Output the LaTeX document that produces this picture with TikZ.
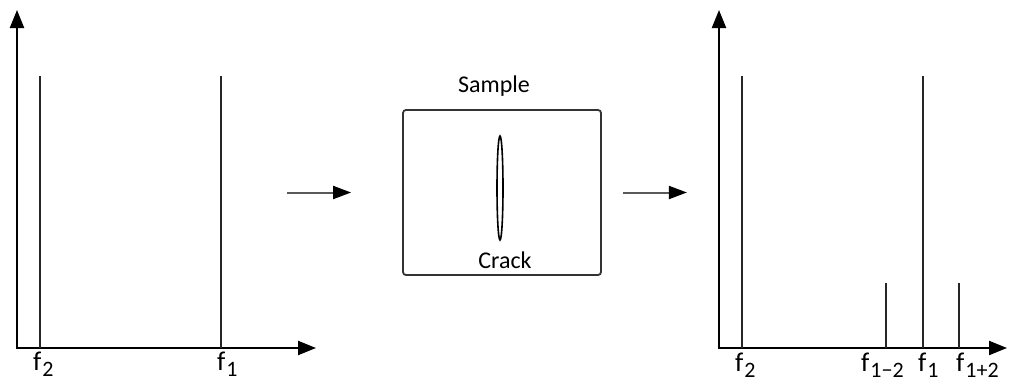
\documentclass[tikz,border=0pt]{standalone}
\usepackage{fontspec}
\setmainfont{Carlito}
\usetikzlibrary{arrows.meta,positioning}

\newcommand{\fsub}[1]{f\kern1pt\raisebox{-6pt}{\fontsize{22}{22}\selectfont #1}}

\tikzset{
  axis/.style={line width=2.2pt,{Triangle[length=18pt,width=14pt]}-{Triangle[length=18pt,width=14pt]}},
  tone/.style={line width=2pt,black!85},
  flow/.style={line width=2pt,black!65,-{Triangle[length=18pt,width=13pt,color=black]}},
  freq/.style={anchor=north west,inner sep=0pt,font=\fontsize{27}{29}\selectfont},
}

\begin{document}
\begin{tikzpicture}[x=1pt,y=-1pt]
\useasboundingbox (0,0) rectangle (1010,383);
% input spectrum: two tones
\coordinate (o1) at (17,348);
\draw[axis] (17,10) -- (o1) -- (316,348);
\foreach \x/\h/\lab/\dx in {40/76/2/7,221/76/1/4}{
  \draw[tone] (\x,348) -- (\x,\h);
  \node[freq] at (\x-\dx,352) {\fsub{\lab}};
}
% sample with crack
\node[draw,line width=1.8pt,black!80,rounded corners=3pt,minimum width=198pt,minimum height=165pt] (sample) at (502,192.5) {};
\node[font=\fontsize{24}{26}\selectfont,above=9pt of sample,xshift=-8pt] (samplelab) {Sample};
\draw[line width=1.6pt] (500,188) ellipse (3 and 52);
\node[font=\fontsize{24}{26}\selectfont] (cracklab) at (505,260) {Crack};
\coordinate (in1) at ([xshift=-115pt]sample.west);
\coordinate (in2) at ([xshift=-51pt]sample.west);
\coordinate (out1) at ([xshift=21pt]sample.east);
\coordinate (out2) at ([xshift=85pt]sample.east);
\draw[flow] (in1) -- (in2);
\draw[flow] (out1) -- (out2);
% output spectrum: tones plus sidebands
\coordinate (o2) at (719,348);
\draw[axis] (719,10) -- (o2) -- (1007,348);
\foreach \x/\h/\lab/\dx in {742/76/2/7,886/283/1−2/25,923/76/1/5,959/283/1+2/3}{
  \draw[tone] (\x,348) -- (\x,\h);
  \node[freq] at (\x-\dx,353) {\fsub{\lab}};
}
\end{tikzpicture}
\end{document}
